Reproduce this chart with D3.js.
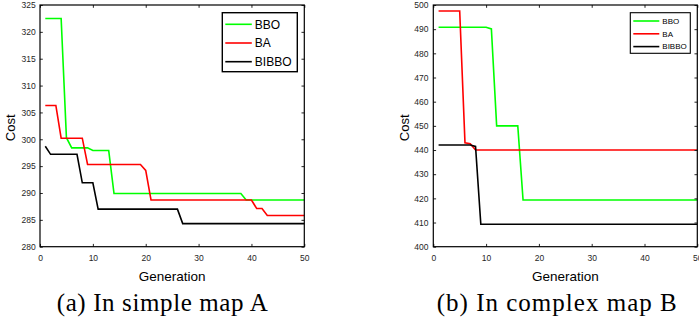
<!DOCTYPE html>
<html>
<head>
<meta charset="utf-8">
<script src="https://cdn.jsdelivr.net/npm/d3@7"></script>
<style>
  html, body { margin: 0; padding: 0; background: #fff; }
  svg { display: block; }
  .tick text { font-family: "Liberation Sans", Arial, sans-serif; font-size: 8.5px; fill: #262626; }
</style>
</head>
<body>
<svg id="chart" width="699" height="323"></svg>
<script>
// ---------------- data ----------------
const generations = [1,2,3,4,5,6,7,8,9,10,11,12,13,14,15,16,17,18,19,20,21,22,23,24,25,26,27,28,29,30,31,32,33,34,35,36,37,38,39,40,41,42,43,44,45,46,47,48,49,50];
const seriesNames = ["BBO", "BA", "BIBBO"];
const seriesColors = ["#00ff00", "#ff0000", "#000000"];
const xTicks = [0, 10, 20, 30, 40, 50];

// (a) simple map A
const mapA_BBO = [322.5,322.5,322.5,322.5,300.3,298.4,298.4,298.4,298.4,297.9,297.9,297.9,297.9,289.9,289.9,289.9,289.9,289.9,289.9,289.9,289.9,289.9,289.9,289.9,289.9,289.9,289.9,289.9,289.9,289.9,289.9,289.9,289.9,289.9,289.9,289.9,289.9,289.9,288.7,288.7,288.7,288.7,288.7,288.7,288.7,288.7,288.7,288.7,288.7,288.7];
const mapA_BA = [306.3,306.3,306.3,300.2,300.2,300.2,300.2,300.2,295.3,295.3,295.3,295.3,295.3,295.3,295.3,295.3,295.3,295.3,295.3,294.2,288.7,288.7,288.7,288.7,288.7,288.7,288.7,288.7,288.7,288.7,288.7,288.7,288.7,288.7,288.7,288.7,288.7,288.7,288.7,288.7,287.1,287.1,285.8,285.8,285.8,285.8,285.8,285.8,285.8,285.8];
const mapA_BIBBO = [298.7,297.2,297.2,297.2,297.2,297.2,297.2,291.9,291.9,291.9,287.0,287.0,287.0,287.0,287.0,287.0,287.0,287.0,287.0,287.0,287.0,287.0,287.0,287.0,287.0,287.0,284.3,284.3,284.3,284.3,284.3,284.3,284.3,284.3,284.3,284.3,284.3,284.3,284.3,284.3,284.3,284.3,284.3,284.3,284.3,284.3,284.3,284.3,284.3,284.3];
const mapA_yTicks = [280, 285, 290, 295, 300, 305, 310, 315, 320, 325];
const mapA_caption = "(a) In simple map A";

// (b) complex map B
const mapB_BBO = [490.8,490.8,490.8,490.8,490.8,490.8,490.8,490.8,490.8,490.8,490.1,450.0,450.0,450.0,450.0,450.0,419.3,419.3,419.3,419.3,419.3,419.3,419.3,419.3,419.3,419.3,419.3,419.3,419.3,419.3,419.3,419.3,419.3,419.3,419.3,419.3,419.3,419.3,419.3,419.3,419.3,419.3,419.3,419.3,419.3,419.3,419.3,419.3,419.3,419.3];
const mapB_BA = [497.5,497.5,497.5,497.5,497.5,443.0,442.6,440.0,440.0,440.0,440.0,440.0,440.0,440.0,440.0,440.0,440.0,440.0,440.0,440.0,440.0,440.0,440.0,440.0,440.0,440.0,440.0,440.0,440.0,440.0,440.0,440.0,440.0,440.0,440.0,440.0,440.0,440.0,440.0,440.0,440.0,440.0,440.0,440.0,440.0,440.0,440.0,440.0,440.0,440.0];
const mapB_BIBBO = [442.1,442.1,442.1,442.1,442.1,442.1,442.1,441.5,409.3,409.3,409.3,409.3,409.3,409.3,409.3,409.3,409.3,409.3,409.3,409.3,409.3,409.3,409.3,409.3,409.3,409.3,409.3,409.3,409.3,409.3,409.3,409.3,409.3,409.3,409.3,409.3,409.3,409.3,409.3,409.3,409.3,409.3,409.3,409.3,409.3,409.3,409.3,409.3,409.3,409.3];
const mapB_yTicks = [400, 410, 420, 430, 440, 450, 460, 470, 480, 490, 500];
const mapB_caption = "(b) In complex map B";

const xLabel = "Generation";
const yLabel = "Cost";

// ---------------- drawing ----------------
const svg = d3.select("#chart");

function panel(cfg) {
  const g = svg.append("g");
  const x = d3.scaleLinear().domain([0, 50]).range([cfg.left, cfg.right]);
  const y = d3.scaleLinear().domain(cfg.yDomain).range([cfg.bottom, cfg.top]);
  const tick = 2.8;

  // series lines
  const line = d3.line().x((d, i) => x(generations[i])).y(d => y(d));
  cfg.series.forEach((s, k) => {
    g.append("path").datum(s)
      .attr("fill", "none")
      .attr("stroke", seriesColors[k])
      .attr("stroke-width", 1.6)
      .attr("stroke-linejoin", "miter")
      .attr("d", line);
  });

  // axes (inward ticks on all four sides)
  const axB = g.append("g").attr("transform", `translate(0,${cfg.bottom})`)
    .call(d3.axisBottom(x).tickValues(xTicks).tickSize(-tick).tickPadding(8.3).tickSizeOuter(0));
  const axT = g.append("g").attr("transform", `translate(0,${cfg.top})`)
    .call(d3.axisTop(x).tickValues(xTicks).tickSize(-tick).tickFormat("").tickSizeOuter(0));
  const axL = g.append("g").attr("transform", `translate(${cfg.left},0)`)
    .call(d3.axisLeft(y).tickValues(cfg.yTicks).tickSize(-tick).tickPadding(cfg.yPad).tickSizeOuter(0));
  const axR = g.append("g").attr("transform", `translate(${cfg.right},0)`)
    .call(d3.axisRight(y).tickValues(cfg.yTicks).tickSize(-tick).tickFormat("").tickSizeOuter(0));
  [axB, axT, axL, axR].forEach(a => {
    a.select(".domain").remove();
    a.selectAll(".tick line").attr("stroke", "#262626").attr("stroke-width", 1);
  });

  // box
  g.append("rect")
    .attr("x", cfg.left).attr("y", cfg.top)
    .attr("width", cfg.right - cfg.left).attr("height", cfg.bottom - cfg.top)
    .attr("fill", "none").attr("stroke", "#000").attr("stroke-width", 1.2);

  // axis labels
  g.append("text")
    .attr("x", (cfg.left + cfg.right) / 2).attr("y", 281)
    .attr("text-anchor", "middle")
    .style("font-family", "Liberation Sans, Arial, sans-serif").style("font-size", "13.5px").attr("fill", "#000")
    .text(xLabel);
  g.append("text")
    .attr("transform", `translate(${cfg.yLabelX},${(cfg.top + cfg.bottom) / 2 + 2}) rotate(-90)`)
    .attr("text-anchor", "middle")
    .style("font-family", "Liberation Sans, Arial, sans-serif").style("font-size", "13px").attr("fill", "#000")
    .text(yLabel);

  // legend
  const L = cfg.legend;
  g.append("rect")
    .attr("x", L.x).attr("y", L.y).attr("width", L.w).attr("height", L.h)
    .attr("fill", "#fff").attr("stroke", "#000").attr("stroke-width", L.sw);
  seriesNames.forEach((name, k) => {
    const yy = L.y + L.first + k * L.step;
    g.append("line")
      .attr("x1", L.x + L.lx1).attr("x2", L.x + L.lx2)
      .attr("y1", yy).attr("y2", yy)
      .attr("stroke", seriesColors[k]).attr("stroke-width", 1.6);
    g.append("text")
      .attr("x", L.x + L.tx).attr("y", yy + L.fs * 0.36)
      .style("font-family", "Liberation Sans, Arial, sans-serif").style("font-size", L.fs + "px").attr("fill", "#000")
      .text(name);
  });

  // caption
  g.append("text")
    .attr("x", cfg.capX).attr("y", 311)
    .attr("textLength", cfg.capW).attr("lengthAdjust", "spacing")
    .style("font-family", "Liberation Serif, 'Times New Roman', serif").style("font-size", "25px").attr("fill", "#000")
    .text(cfg.caption);
}

panel({
  left: 40, right: 304.3, top: 5, bottom: 246.7,
  yDomain: [280, 325], yTicks: mapA_yTicks, yPad: 4.3, yLabelX: 15,
  series: [mapA_BBO, mapA_BA, mapA_BIBBO],
  legend: { x: 222.3, y: 12.7, w: 75, h: 59, sw: 1.4, first: 11.6, step: 18.7, lx1: 3, lx2: 29.5, tx: 32.5, fs: 12 },
  caption: mapA_caption, capX: 56.7, capW: 211
});
panel({
  left: 433.3, right: 697.3, top: 5, bottom: 246.7,
  yDomain: [400, 500], yTicks: mapB_yTicks, yPad: 4.8, yLabelX: 409,
  series: [mapB_BBO, mapB_BA, mapB_BIBBO],
  legend: { x: 630.3, y: 12.7, w: 60, h: 40.6, sw: 1.1, first: 8.3, step: 12.8, lx1: 3, lx2: 29, tx: 32, fs: 8 },
  caption: mapB_caption, capX: 436.7, capW: 240
});
</script>
</body>
</html>
